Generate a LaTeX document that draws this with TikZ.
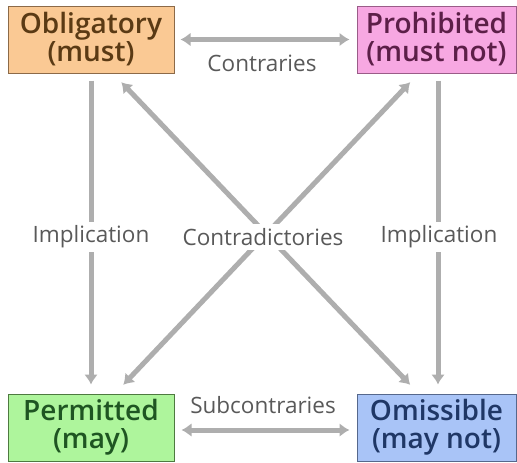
\documentclass[tikz,border=0pt]{standalone}
\usepackage{fontspec}
\setmainfont{Open Sans}
\newfontfamily\semib{Open Sans Semibold}
\usepackage{tikz}
\usetikzlibrary{arrows.meta,positioning}
\definecolor{oblfill}{HTML}{FAC994}\definecolor{oblline}{HTML}{8C6A48}\definecolor{obltext}{HTML}{5A3A14}
\definecolor{profill}{HTML}{F7A8E2}\definecolor{proline}{HTML}{9A5C88}\definecolor{protext}{HTML}{5C1F48}
\definecolor{perfill}{HTML}{AEF59C}\definecolor{perline}{HTML}{4E7A40}\definecolor{pertext}{HTML}{1F5522}
\definecolor{omifill}{HTML}{A9C4F7}\definecolor{omiline}{HTML}{56688C}\definecolor{omitext}{HTML}{1F3766}
\definecolor{arrgray}{HTML}{AEAEAE}
\tikzset{
  modal/.style={draw,line width=1pt,minimum height=67pt,inner sep=0pt,align=center,
    font=\fontsize{28}{28}\selectfont\semib},
  lbl/.style={text=black!65,inner sep=4pt,font=\fontsize{22.5}{24}\selectfont},
  rel/.style={lbl,fill=white},
  arr/.style={arrgray,line width=5pt,-{Latex[length=10pt,width=14pt]}},
  darr/.style={arr,{Latex[length=10pt,width=14pt]}-{Latex[length=10pt,width=14pt]}}
}
\begin{document}
\begin{tikzpicture}[x=1pt,y=-1pt]
  \useasboundingbox (0,0) rectangle (517,463);
  \node[modal,fill=oblfill,draw=oblline,text=obltext,minimum width=166pt](obl)at(91,39.5){Obligatory\\(must)};
  \node[modal,fill=profill,draw=proline,text=protext,minimum width=159pt](pro)at(436.5,39.5){Prohibited\\(must not)};
  \node[modal,fill=perfill,draw=perline,text=pertext,minimum width=166pt](per)at(91,427.5){Permitted\\(may)};
  \node[modal,fill=omifill,draw=omiline,text=omitext,minimum width=159pt](omi)at(436.5,427.5){Omissible\\(may not)};
  % relations
  \draw[darr,shorten <=6pt,shorten >=7pt](obl.east)--(pro.west);
  \draw[darr,shorten <=7pt,shorten >=7pt]([yshift=-2.5pt]per.east)--([yshift=-2.5pt]omi.west);
  \draw[arr,shorten <=7pt,shorten >=9pt](obl.south)--(per.north);
  \draw[arr,shorten <=7pt,shorten >=9pt]([xshift=1.5pt]pro.south)--([xshift=1.5pt]omi.north);
  \draw[darr,shorten <=12pt,shorten >=12pt]([xshift=22pt]obl.south)--([xshift=-18pt]omi.north);
  \draw[darr,shorten <=12pt,shorten >=12pt]([xshift=24pt]per.north)--([xshift=-18pt]pro.south);
  \node[lbl](contr)at(262,63){Contraries};
  \node[lbl](subc)at(263,405){Subcontraries};
  \node[rel](impl)at(91,237){Implication};
  \node[rel](impr)at(439,237){Implication};
  \node[rel](cdic)at(263,237){Contradictories};
\end{tikzpicture}
\end{document}
